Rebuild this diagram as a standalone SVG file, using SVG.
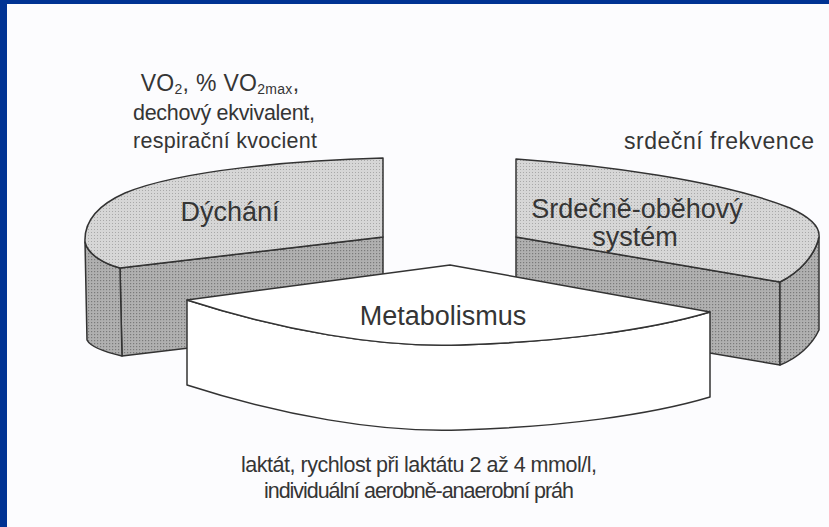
<svg xmlns="http://www.w3.org/2000/svg" width="829" height="527" viewBox="0 0 829 527">
<style>
.t{font-family:"Liberation Sans",Arial,sans-serif;fill:#353535}
.lbl{font-size:27px;text-anchor:middle}
.cap{font-size:21.5px;text-anchor:middle}
.capL{font-size:23px;text-anchor:middle}
.top{fill:url(#htTop);stroke:#333;stroke-width:1.5;stroke-linejoin:round}
.side{fill:url(#htSide);stroke:#333;stroke-width:1.5;stroke-linejoin:round}
.meta{fill:#ffffff;stroke:#333;stroke-width:1.5;stroke-linejoin:round}
</style>
<defs>
<pattern id="htTop" width="3" height="3" patternUnits="userSpaceOnUse">
<rect width="3" height="3" fill="#d6d6d6"/>
<rect x="1" y="1" width="1" height="1" fill="#a8a8a8"/>
</pattern>
<pattern id="htSide" width="3" height="3" patternUnits="userSpaceOnUse">
<rect width="3" height="3" fill="#b0b0b0"/>
<rect x="1" y="1" width="1.2" height="1.2" fill="#7a7a7a"/>
</pattern>
</defs>
<rect x="0" y="0" width="829" height="527" fill="#fcfcfe"/>
<rect x="0" y="0" width="829" height="4" fill="#003393"/>
<rect x="0" y="0" width="7" height="527" fill="#003393"/>

<g id="dychani">
<path class="side" d="M120,268 L383,237 L383,325 L122,356 Z"/>
<path class="side" d="M85,242 C88,255 105,264 120,268 L122,356 C105,352 90,346 87,340 Z"/>
<path class="top" d="M120,268 L383,237 L383,158 C300,160 180,170 125,193 C98,205 84,222 85,242 C88,255 105,264 120,268 Z"/>
<text class="t lbl" x="230" y="221">Dýchání</text>
</g>

<g id="srdecne">
<path class="side" d="M516,237 L780,282 L780,365 L516,320 Z"/>
<path class="side" d="M780,282 C800,272 815,255 819,237 L819,330 C812,345 798,358 780,365 Z"/>
<path class="top" d="M516,159 C600,165 720,180 790,208 C812,218 820,228 819,237 C815,255 800,272 780,282 L516,237 Z"/>
<text class="t lbl" x="637" y="218">Srdečně-oběhový</text>
<text class="t lbl" x="635" y="246">systém</text>
</g>

<g id="metabolismus">
<path class="meta" d="M187,300 C280,330 380,348 460,345 C560,342 650,330 710,312 L710,397 C650,415 560,427 460,430 C380,433 280,415 187,385 Z"/>
<path class="meta" d="M187,300 L450,265 L710,312 C650,330 560,342 460,345 C380,348 280,330 187,300 Z"/>
<text class="t lbl" x="443" y="325">Metabolismus</text>
</g>

<g id="connectors"></g>

<g id="captions">
<text class="t capL" x="220" y="91" letter-spacing="0.3">VO<tspan font-size="14" dy="3">2</tspan><tspan dy="-3">, % VO</tspan><tspan font-size="14" dy="3">2max</tspan><tspan dy="-3">,</tspan></text>
<text class="t cap" x="224" y="120" textLength="182">dechový ekvivalent,</text>
<text class="t cap" x="225" y="148" textLength="184">respirační kvocient</text>
<text class="t capL" x="719" y="149" textLength="190">srdeční frekvence</text>
<text class="t cap" x="419" y="472" textLength="356">laktát, rychlost při laktátu 2 až 4 mmol/l,</text>
<text class="t cap" x="419" y="498" textLength="310">individuální aerobně-anaerobní práh</text>
</g>
</svg>
